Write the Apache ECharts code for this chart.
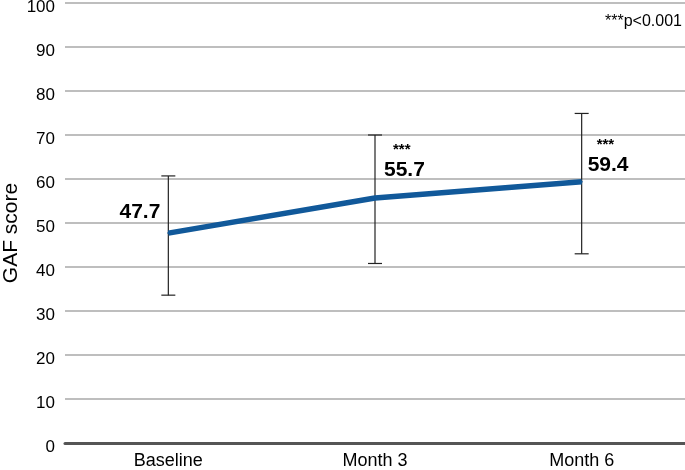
<!DOCTYPE html>
<html>
<head>
<meta charset="utf-8">
<script src="https://cdn.jsdelivr.net/npm/echarts@6/dist/echarts.min.js"></script>
<style>
  html, body { margin: 0; padding: 0; background: #fff; }
  #chart { width: 685px; height: 470px; }
</style>
</head>
<body>
<div id="chart"></div>
<script>
// 数据
const categories = ['Baseline', 'Month 3', 'Month 6'];
const means = [47.7, 55.7, 59.4];
const lows = [33.6, 40.8, 43.0];
const highs = [60.7, 70.0, 74.9];
const stars = ['', '***', '***'];
const yTicks = [0, 10, 20, 30, 40, 50, 60, 70, 80, 90, 100];

const FONT = '"Liberation Sans", Arial, sans-serif';
const lineColor = '#11599a';

// 数据标签位置
const labelCfg = [
  { position: 'left', distance: 5, offset: [-2, -21] },
  { position: 'right', distance: 5, offset: [3, -36] },
  { position: 'right', distance: 5, offset: [0, -25] }
];

const lineData = means.map((v, i) => ({
  value: v,
  label: Object.assign({
    show: true,
    formatter: stars[i] ? '{s|' + stars[i] + '}\n{v|' + v.toFixed(1) + '}' : '{v|' + v.toFixed(1) + '}',
    rich: {
      s: { fontFamily: FONT, fontSize: 15, fontWeight: 'bold', color: '#000', lineHeight: 17, padding: [0, 0, 0, 9] },
      v: { fontFamily: FONT, fontSize: 21, fontWeight: 'bold', color: '#000', lineHeight: 24 }
    }
  }, labelCfg[i])
}));

const errData = categories.map((c, i) => [i, lows[i], highs[i]]);

const chart = echarts.init(document.getElementById('chart'));
chart.setOption({
  animation: false,
  grid: { left: 65, right: 0, top: 3, bottom: 27, outerBoundsMode: 'none', containLabel: false },
  xAxis: {
    type: 'category',
    data: categories,
    boundaryGap: true,
    axisLine: { show: true, lineStyle: { color: '#555', width: 3 } },
    axisTick: { show: false },
    axisLabel: { fontFamily: FONT, fontSize: 18, color: '#000', margin: 9 }
  },
  yAxis: {
    type: 'value',
    min: yTicks[0],
    max: yTicks[yTicks.length - 1],
    interval: 10,
    name: 'GAF score',
    nameLocation: 'middle',
    nameGap: 43,
    nameMoveOverlap: false,
    nameTextStyle: { fontFamily: FONT, fontSize: 21, color: '#000', padding: [0, 20, 0, 0] },
    axisLine: { show: false },
    axisTick: { show: false },
    axisLabel: {
      margin: 10,
      formatter: '{a|{value}}',
      rich: { a: { fontFamily: FONT, fontSize: 17, color: '#000', padding: [8, 0, 0, 0] } }
    },
    splitLine: { lineStyle: { color: '#a8a8a8', width: 1.5 } }
  },
  graphic: [{
    type: 'text',
    right: 3,
    top: 14,
    style: { text: '***p<0.001', fontFamily: FONT, fontSize: 16, fill: '#000' }
  }],
  series: [
    {
      type: 'custom',
      z: 1,
      renderItem: function (params, api) {
        const x = api.value(0);
        const lo = api.coord([x, api.value(1)]);
        const hi = api.coord([x, api.value(2)]);
        const cap = 7;
        const style = { stroke: '#222', lineWidth: 1.2 };
        return {
          type: 'group',
          children: [
            { type: 'line', shape: { x1: lo[0], y1: lo[1], x2: hi[0], y2: hi[1] }, style: style },
            { type: 'line', shape: { x1: lo[0] - cap, y1: lo[1], x2: lo[0] + cap, y2: lo[1] }, style: style },
            { type: 'line', shape: { x1: hi[0] - cap, y1: hi[1], x2: hi[0] + cap, y2: hi[1] }, style: style }
          ]
        };
      },
      data: errData
    },
    {
      type: 'line',
      z: 3,
      data: lineData,
      symbol: 'circle',
      symbolSize: 2,
      itemStyle: { color: lineColor },
      lineStyle: { color: lineColor, width: 5.5 }
    }
  ]
});
</script>
</body>
</html>
